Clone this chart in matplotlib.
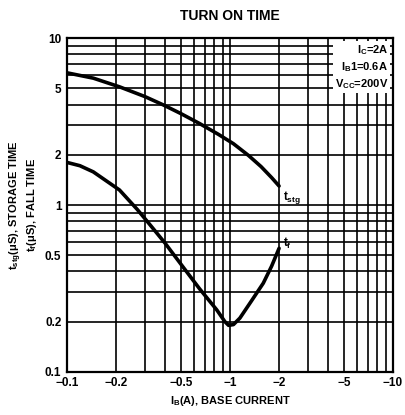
import numpy as np
import matplotlib
matplotlib.use("Agg")
import matplotlib.pyplot as plt
from matplotlib.ticker import FixedLocator, NullFormatter, LogLocator

plt.rcParams["font.family"] = ["Liberation Sans", "DejaVu Sans"]
plt.rcParams["font.weight"] = "bold"
plt.rcParams["axes.labelweight"] = "bold"
plt.rcParams["mathtext.fontset"] = "custom"
plt.rcParams["mathtext.rm"] = "Liberation Sans:bold"
plt.rcParams["mathtext.it"] = "Liberation Sans:bold"
plt.rcParams["mathtext.bf"] = "Liberation Sans:bold"

# base current I_B (A), storage time and fall time (us)
ib_stg = [-0.1, -0.145, -0.21, -0.3, -0.39, -0.5, -0.65, -0.85, -1.05, -1.3, -1.55, -1.8, -2.0]
t_stg = [6.2, 5.76, 5.11, 4.47, 3.98, 3.53, 3.08, 2.65, 2.33, 1.98, 1.70, 1.46, 1.30]

ib_f = [-0.1, -0.12, -0.145, -0.21, -0.27, -0.32, -0.4, -0.52, -0.65, -0.83, -0.93, -0.98,
        -1.05, -1.15, -1.35, -1.6, -1.8, -2.0]
t_f = [1.8, 1.72, 1.58, 1.23, 0.94, 0.77, 0.59, 0.42, 0.315, 0.235, 0.2, 0.19,
       0.192, 0.21, 0.265, 0.34, 0.43, 0.55]

xticks = [0.1, 0.2, 0.5, 1, 2, 5, 10]
xtick_labels = ["\u22120.1", "\u22120.2", "\u22120.5", "\u22121", "\u22122", "\u22125", "\u221210"]
yticks = [0.1, 0.2, 0.5, 1, 2, 5, 10]
ytick_labels = ["0.1", "0.2", "0.5", "1", "2", "5", "10"]

fig = plt.figure(figsize=(4.06, 4.15), dpi=100)
ax = fig.add_axes([0.165, 0.104, 0.803, 0.804])
ax.set_xscale("log")
ax.set_yscale("log")
ax.set_xlim(0.1, 10)
ax.set_ylim(0.1, 10)

ax.plot(-np.array(ib_stg), t_stg, color="black", lw=2.6, solid_capstyle="round")
ax.plot(-np.array(ib_f), t_f, color="black", lw=2.6, solid_capstyle="round")

ax.xaxis.set_major_locator(FixedLocator(xticks))
ax.set_xticklabels(xtick_labels)
ax.yaxis.set_major_locator(FixedLocator(yticks))
ax.set_yticklabels(ytick_labels)
ax.xaxis.set_minor_locator(LogLocator(base=10, subs=np.arange(1, 10)))
ax.yaxis.set_minor_locator(LogLocator(base=10, subs=np.arange(1, 10)))
ax.xaxis.set_minor_formatter(NullFormatter())
ax.yaxis.set_minor_formatter(NullFormatter())
ax.grid(True, which="both", color="black", lw=1.2)
ax.tick_params(which="both", length=0, labelsize=8.5, pad=4)
for s in ax.spines.values():
    s.set_linewidth(1.6)

ax.text(2.1, 1.24, "$t_{stg}$", fontsize=8.5, va="top", ha="left")
ax.text(2.1, 0.53, "$t_f$", fontsize=8.5, va="bottom", ha="left")

ax.text(0.985, 0.985, "$I_C$=2A\n$I_B$1=0.6A\n$V_{CC}$=200V", transform=ax.transAxes,
        ha="right", va="top", fontsize=8, linespacing=1.3,
        bbox=dict(facecolor="white", edgecolor="none", pad=1.5))

ax.set_title("TURN ON TIME", fontsize=10, fontweight="bold", pad=13)
ax.set_xlabel("$I_B$(A), BASE CURRENT", fontsize=8, fontweight="bold", labelpad=3)
ax.set_ylabel("$t_{stg}(\\mu S)$, STORAGE TIME\n$t_f(\\mu S)$, FALL TIME", fontsize=8,
              fontweight="bold", labelpad=4, linespacing=1.1)

fig.savefig("out.png", dpi=100)
